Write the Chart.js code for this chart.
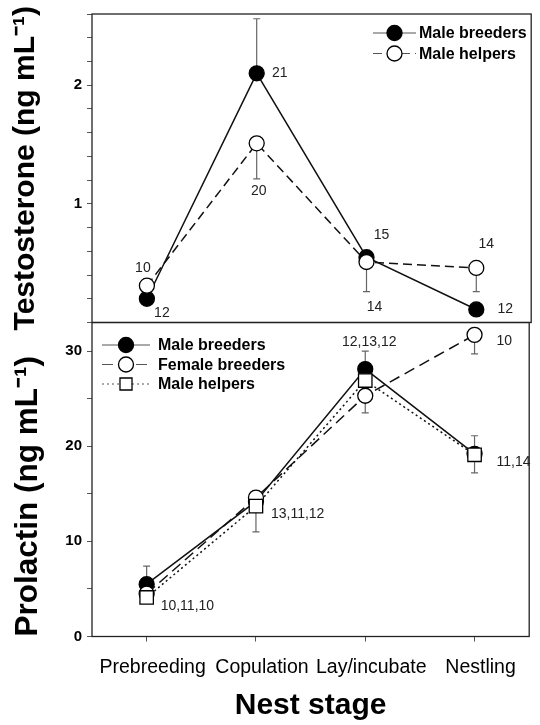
<!DOCTYPE html>
<html>
<head>
<meta charset="utf-8">
<script src="https://cdn.jsdelivr.net/npm/chart.js@4"></script>
<style>
  body { margin: 0; background: #fff; }
  #wrap { position: relative; width: 540px; height: 725px; }
  canvas { position: absolute; left: 0; top: 0; }
</style>
</head>
<body>
<div id="wrap">
  <canvas id="prolChart" width="540" height="725"></canvas>
  <canvas id="testChart" width="540" height="725"></canvas>
</div>
<script>
// Nest stages
const stages = ['Prebreeding', 'Copulation', 'Lay/incubate', 'Nestling'];

// Testosterone (ng/mL), means and one-sided error bar ends
const testBreeders = [0.20, 2.10, 0.55, 0.11];
const testHelpers = [0.31, 1.51, 0.51, 0.46];
const testBreedersHi = [null, 2.56, null, null];
const testHelpersLo = [null, 1.21, 0.26, 0.26];
const testBreedersN = ['12', '21', '15', '12'];
const testHelpersN = ['10', '20', '14', '14'];
const testTicks = [1, 2];

// Prolactin (ng/mL)
const prolBreeders = [5.5, 14.2, 28.1, 19.2];
const prolFemales = [4.5, 14.6, 25.3, 31.7];
const prolHelpers = [4.1, 13.7, 26.9, 19.1];
const prolBreedersHi = [7.4, null, 30.0, 21.1];
const prolFemalesHi = [null, 15.3, null, null];
const prolFemalesLo = [null, null, 23.5, 29.7];
const prolHelpersLo = [null, 11.0, null, 17.2];
const prolBreedersN = [null, null, '12,13,12', null];
const prolFemalesN = [null, null, null, '10'];
const prolHelpersN = ['10,11,10', '13,11,12', null, '11,14'];
const prolTicks = [0, 10, 20, 30];

const fam = "'Liberation Sans', Arial, sans-serif";
Chart.defaults.font.family = fam;
Chart.defaults.color = '#000';

// error bars, n labels, frame and a hand drawn legend
const extras = {
  id: 'extras',
  beforeDatasetsDraw(chart) {
    const ctx = chart.ctx, xs = chart.scales.x, ys = chart.scales.y;
    ctx.save();
    ctx.strokeStyle = '#666';
    ctx.lineWidth = 1.2;
    chart.data.datasets.forEach(ds => {
      ds.data.forEach((v, i) => {
        const x = xs.getPixelForValue(i);
        [ds.errHi, ds.errLo].forEach(arr => {
          if (!arr || arr[i] == null) return;
          const y0 = ys.getPixelForValue(v), y1 = ys.getPixelForValue(arr[i]);
          ctx.beginPath();
          ctx.moveTo(x, y0); ctx.lineTo(x, y1);
          ctx.moveTo(x - 3.5, y1); ctx.lineTo(x + 3.5, y1);
          ctx.stroke();
        });
      });
    });
    ctx.restore();
  },
  afterDraw(chart, args, opts) {
    const ctx = chart.ctx, a = chart.chartArea;
    ctx.save();
    // frame
    ctx.strokeStyle = '#222';
    ctx.lineWidth = 1.3;
    ctx.strokeRect(a.left, a.top, a.right - a.left, a.bottom - a.top);

    // sample sizes
    ctx.fillStyle = '#222';
    ctx.font = '14px ' + fam;
    ctx.textBaseline = 'middle';
    chart.data.datasets.forEach((ds, d) => {
      const pts = chart.getDatasetMeta(d).data;
      (ds.nText || []).forEach((t, i) => {
        if (t == null) return;
        const o = opts.nOffsets[d][i];
        ctx.textAlign = o[2];
        ctx.fillText(t, pts[i].x + o[0], pts[i].y + o[1]);
      });
    });

    // legend
    const lg = opts.legend;
    ctx.font = 'bold 16px ' + fam;
    ctx.textAlign = 'left';
    chart.data.datasets.forEach((ds, d) => {
      const y = lg.rows[d];
      ctx.strokeStyle = '#555';
      ctx.lineWidth = 1;
      ctx.setLineDash(ds.borderDash || []);
      ctx.beginPath();
      ctx.moveTo(lg.x0, y); ctx.lineTo(lg.x1, y);
      ctx.stroke();
      ctx.setLineDash([]);
      ctx.fillStyle = ds.pointBackgroundColor;
      ctx.strokeStyle = '#000';
      ctx.lineWidth = 1.3;
      Chart.helpers.drawPoint(ctx, {
        pointStyle: ds.pointStyle,
        radius: ds.pointStyle === 'rect' ? 8.5 : 7.5,
        borderWidth: 1.3,
        rotation: 0
      }, (lg.x0 + lg.x1) / 2, y);
      ctx.fillStyle = '#000';
      ctx.fillText(ds.label, lg.textX, y + 1);
    });
    ctx.restore();
  }
};

function yAxis(title, min, max, step, labels, titleFont, titleAlign, titlePad) {
  return {
    min: min, max: max,
    afterFit: s => { s.width = 92; },
    border: { display: false },
    grid: { drawOnChartArea: false, tickLength: 5, color: '#555' },
    ticks: {
      stepSize: step, includeBounds: false, autoSkip: false, padding: 5,
      color: '#000', font: { size: 15, weight: 'bold' },
      callback: v => {
        const r = Math.round(v * 10) / 10;
        return labels.includes(r) ? r : '';
      }
    },
    title: {
      display: true, text: title, color: '#000', align: titleAlign,
      font: { size: titleFont, weight: 'bold' },
      padding: { top: titlePad, bottom: 0 }
    }
  };
}

function series(label, data, style) {
  return Object.assign({
    label: label,
    data: data,
    borderColor: '#111',
    borderWidth: 1.5,
    tension: 0,
    pointStyle: 'circle',
    pointRadius: 7.5,
    pointBorderColor: '#000',
    pointBorderWidth: 1.3,
    pointBackgroundColor: '#000'
  }, style);
}

// Top panel: testosterone
const testConfig = {
  type: 'line',
  data: {
    labels: stages,
    datasets: [
      series('Male breeders', testBreeders, { errHi: testBreedersHi, nText: testBreedersN, order: 2 }),
      series('Male helpers', testHelpers, {
        borderDash: [9, 5], pointBackgroundColor: '#fff',
        errLo: testHelpersLo, nText: testHelpersN, order: 1
      })
    ]
  },
  options: {
    responsive: false,
    animation: false,
    devicePixelRatio: 1,
    layout: { padding: { top: 9, bottom: 402.5, left: 0, right: 6 } },
    plugins: {
      legend: { display: false },
      tooltip: { enabled: false },
      extras: {
        nOffsets: [
          [[15, 14, 'center'], [23, 0, 'center'], [15, -22, 'center'], [29, 0, 'center']],
          [[-4, -18, 'center'], [2, 48, 'center'], [8, 45, 'center'], [10, -24, 'center']]
        ],
        legend: { x0: 373, x1: 416, textX: 419, rows: [33, 53.5] }
      }
    },
    scales: {
      x: { type: 'category', offset: true, display: false },
      y: yAxis('Testosterone (ng mL\u207B\u00B9)', 0, 2.6, 0.2, testTicks, 30, 'center', 8)
    }
  },
  plugins: [extras]
};

// Bottom panel: prolactin
const prolConfig = {
  type: 'line',
  data: {
    labels: stages,
    datasets: [
      series('Male breeders', prolBreeders, { errHi: prolBreedersHi, nText: prolBreedersN, order: 3 }),
      series('Female breeders', prolFemales, {
        borderDash: [11, 6], pointBackgroundColor: '#fff',
        errHi: prolFemalesHi, errLo: prolFemalesLo, nText: prolFemalesN, order: 2
      }),
      series('Male helpers', prolHelpers, {
        borderDash: [2, 3], pointStyle: 'rect', pointRadius: 9.5, pointBackgroundColor: '#fff',
        errLo: prolHelpersLo, nText: prolHelpersN, order: 1
      })
    ]
  },
  options: {
    responsive: false,
    animation: false,
    devicePixelRatio: 1,
    layout: { padding: { top: 322.5, bottom: 0, left: 0, right: 6 } },
    plugins: {
      legend: { display: false },
      tooltip: { enabled: false },
      extras: {
        nOffsets: [
          [null, null, [4, -27, 'center'], null],
          [null, null, null, [22, 6, 'left']],
          [[14, 9, 'left'], [15, 8, 'left'], null, [22, 7, 'left']]
        ],
        legend: { x0: 102, x1: 150, textX: 158, rows: [345, 364.5, 384] }
      }
    },
    scales: {
      x: {
        type: 'category', offset: true,
        afterFit: s => { s.height = 88.5; },
        border: { display: false },
        grid: { drawOnChartArea: false, offset: false, tickLength: 5, color: '#555' },
        ticks: {
          padding: 14, labelOffset: 6, maxRotation: 0, autoSkip: false,
          color: '#000', font: { size: 19.5 }
        },
        title: {
          display: true, text: 'Nest stage', color: '#000',
          font: { size: 30, weight: 'bold' },
          padding: { top: 0, bottom: 1 }
        }
      },
      y: yAxis('Prolactin (ng mL\u207B\u00B9)', 0, 33, 5, prolTicks, 31.5, 'start', 9)
    }
  },
  plugins: [extras]
};

const prolChart = new Chart(document.getElementById('prolChart').getContext('2d'), prolConfig);
const testChart = new Chart(document.getElementById('testChart').getContext('2d'), testConfig);
</script>
</body>
</html>
